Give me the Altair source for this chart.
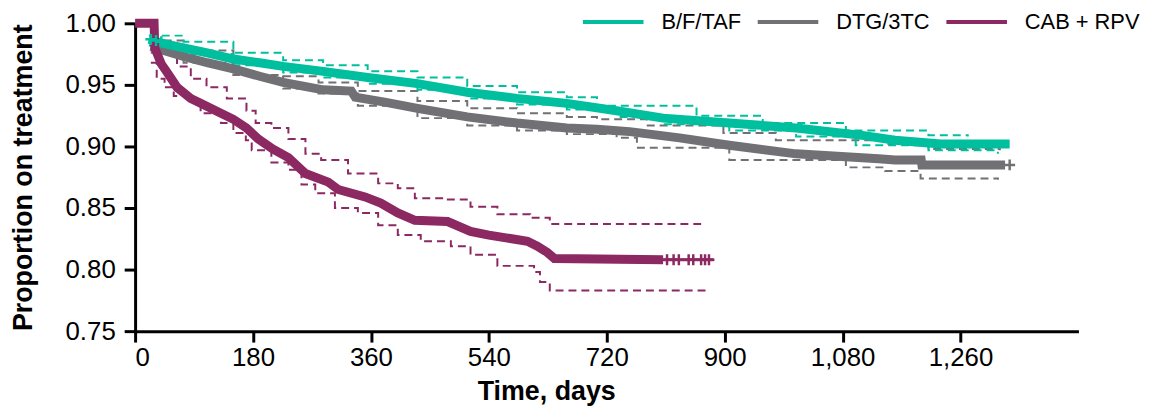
import altair as alt
import pandas as pd

# ---------------- data ----------------
series_names = ["B/F/TAF", "DTG/3TC", "CAB + RPV"]
series_colors = ["#00BF9F", "#717074", "#8C2862"]

x_ticks = [0, 180, 360, 540, 720, 900, 1080, 1260]
y_ticks = [0.75, 0.80, 0.85, 0.90, 0.95, 1.00]

# B/F/TAF
bft_days = [21, 40, 74, 110, 150, 190, 226, 287, 355, 431, 507, 583, 659, 735, 806, 907, 1009, 1110, 1160, 1230, 1335]
bft_vals = [0.987, 0.984, 0.980, 0.976, 0.971, 0.968, 0.965, 0.961, 0.956, 0.951, 0.944, 0.939, 0.935, 0.929, 0.923, 0.919, 0.915, 0.909, 0.905, 0.902, 0.902]
bft_up_days = [21, 74, 150, 226, 287, 355, 431, 507, 583, 659, 705, 857, 958, 1085, 1211, 1271]
bft_up_vals = [0.990, 0.985, 0.976, 0.970, 0.966, 0.961, 0.956, 0.949, 0.944, 0.940, 0.933, 0.925, 0.919, 0.913, 0.909, 0.908]
bft_lo_days = [21, 74, 150, 226, 287, 355, 431, 507, 583, 659, 735, 806, 907, 1009, 1100, 1211, 1317]
bft_lo_vals = [0.982, 0.975, 0.966, 0.960, 0.956, 0.951, 0.946, 0.939, 0.934, 0.930, 0.924, 0.918, 0.913, 0.908, 0.901, 0.897, 0.894]

# DTG/3TC
dtg_days = [24, 50, 74, 110, 150, 190, 226, 287, 330, 336, 381, 431, 507, 583, 659, 705, 755, 831, 907, 1009, 1135, 1160, 1200, 1201, 1328]
dtg_vals = [0.981, 0.977, 0.973, 0.968, 0.963, 0.957, 0.952, 0.946, 0.945, 0.940, 0.936, 0.931, 0.924, 0.919, 0.915, 0.914, 0.912, 0.907, 0.901, 0.894, 0.890, 0.889, 0.889, 0.885, 0.885]
dtg_up_days = [24, 74, 150, 226, 280, 340, 431, 507, 583, 659, 705, 781, 898, 978, 1150, 1211, 1320]
dtg_up_vals = [0.986, 0.978, 0.968, 0.957, 0.952, 0.945, 0.937, 0.931, 0.927, 0.924, 0.922, 0.917, 0.911, 0.905, 0.902, 0.898, 0.897]
dtg_lo_days = [24, 74, 150, 226, 280, 340, 431, 507, 583, 659, 735, 766, 907, 1085, 1145, 1199, 1317]
dtg_lo_vals = [0.976, 0.968, 0.958, 0.947, 0.943, 0.933, 0.923, 0.917, 0.913, 0.910, 0.907, 0.899, 0.889, 0.883, 0.880, 0.874, 0.873]

# CAB + RPV
cab_days = [0, 29, 30, 40, 49, 64, 85, 100, 131, 150, 170, 188, 210, 234, 260, 295, 310, 351, 375, 401, 427, 477, 512, 540, 599, 614, 629, 640, 806]
cab_vals = [1.000, 1.000, 0.980, 0.967, 0.960, 0.948, 0.939, 0.935, 0.927, 0.922, 0.915, 0.906, 0.898, 0.891, 0.878, 0.871, 0.865, 0.859, 0.854, 0.846, 0.840, 0.839, 0.831, 0.828, 0.823, 0.819, 0.814, 0.809, 0.808]
cab_tail_days = [806, 883]
cab_tail_vals = [0.808, 0.808]
cab_up_days = [24, 33, 40, 49, 64, 85, 109, 140, 170, 184, 208, 234, 260, 284, 325, 371, 401, 427, 472, 512, 553, 603, 633, 864]
cab_up_vals = [0.994, 0.985, 0.980, 0.976, 0.965, 0.955, 0.948, 0.939, 0.929, 0.919, 0.915, 0.906, 0.894, 0.889, 0.878, 0.870, 0.866, 0.858, 0.857, 0.851, 0.845, 0.842, 0.837, 0.837]
cab_lo_days = [24, 33, 45, 59, 85, 100, 131, 150, 169, 178, 208, 234, 254, 275, 305, 340, 371, 401, 436, 482, 512, 553, 609, 618, 633, 872]
cab_lo_vals = [0.968, 0.955, 0.948, 0.941, 0.936, 0.927, 0.919, 0.911, 0.905, 0.897, 0.887, 0.881, 0.869, 0.862, 0.850, 0.846, 0.836, 0.828, 0.823, 0.819, 0.812, 0.803, 0.798, 0.790, 0.783, 0.783]

# censoring marks that stand out
bft_cens_days = [24, 32, 40]
bft_cens_vals = [0.987, 0.986, 0.985]
dtg_cens_days = [1335]
dtg_cens_vals = [0.885]
cab_cens_days = [812, 822, 830, 845, 852, 864, 870, 876]
cab_cens_vals = [0.808, 0.808, 0.808, 0.808, 0.808, 0.808, 0.808, 0.808]

# ---------------- tables ----------------
def frame(series, kind, days, vals):
    return pd.DataFrame({"series": series, "kind": kind, "day": days, "value": vals})

main_df = pd.concat([
    frame("DTG/3TC", "main", dtg_days, dtg_vals),
    frame("B/F/TAF", "main", bft_days, bft_vals),
    frame("CAB + RPV", "main", cab_days, cab_vals),
])

per_series = {
    "B/F/TAF": dict(up=(bft_up_days, bft_up_vals), lo=(bft_lo_days, bft_lo_vals),
                    cens=(bft_cens_days, bft_cens_vals), tail=None),
    "DTG/3TC": dict(up=(dtg_up_days, dtg_up_vals), lo=(dtg_lo_days, dtg_lo_vals),
                    cens=(dtg_cens_days, dtg_cens_vals), tail=None),
    "CAB + RPV": dict(up=(cab_up_days, cab_up_vals), lo=(cab_lo_days, cab_lo_vals),
                      cens=(cab_cens_days, cab_cens_vals), tail=(cab_tail_days, cab_tail_vals)),
}

FONT = "Liberation Sans"
color_scale = alt.Scale(domain=series_names, range=series_colors)

x_enc = alt.X("day:Q", scale=alt.Scale(domain=[0, 1440], nice=False),
              axis=alt.Axis(values=x_ticks, format=",d", title="Time, days",
                            titleX=414, titleAlign="center", titlePadding=8, labelPadding=3))
y_enc = alt.Y("value:Q", scale=alt.Scale(domain=[0.75, 1.0], nice=False, zero=False),
              axis=alt.Axis(values=y_ticks, format=".2f", title="Proportion on treatment",
                            labelPadding=9, titlePadding=28))

legend = alt.Legend(orient="none", legendX=449, legendY=-34, direction="horizontal", title=None,
                    symbolType="stroke", symbolSize=3721, symbolStrokeWidth=4,
                    labelFontSize=22, labelFont=FONT, labelColor="black", labelOffset=16,
                    columnPadding=8, padding=0, labelLimit=200)

layers = []
# order of drawing: gray, teal, purple
for name in ["DTG/3TC", "B/F/TAF", "CAB + RPV"]:
    col = series_colors[series_names.index(name)]
    info = per_series[name]
    ci_df = pd.concat([frame(name, "upper", *info["up"]), frame(name, "lower", *info["lo"])])
    layers.append(
        alt.Chart(ci_df).mark_line(interpolate="step-after", strokeWidth=2, strokeDash=[8, 5], color=col)
        .encode(x=x_enc, y=y_enc, detail="kind:N")
    )

main = alt.Chart(main_df).mark_line(strokeWidth=9).encode(
    x=x_enc, y=y_enc,
    color=alt.Color("series:N", scale=color_scale, legend=legend, sort=series_names),
)
layers.append(main)

for name in ["DTG/3TC", "B/F/TAF", "CAB + RPV"]:
    col = series_colors[series_names.index(name)]
    info = per_series[name]
    if info["tail"] is not None:
        layers.append(
            alt.Chart(frame(name, "tail", *info["tail"])).mark_line(strokeWidth=3, color=col)
            .encode(x=x_enc, y=y_enc)
        )
    layers.append(
        alt.Chart(frame(name, "cens", *info["cens"]))
        .mark_point(shape="M-1,0H1M0,-1V1", size=120, strokeWidth=2.5, filled=False, opacity=1, color=col)
        .encode(x=x_enc, y=y_enc)
    )

chart = alt.layer(*layers).properties(
    width=950, height=310,
    autosize=alt.AutoSizeParams(type="none"),
    padding={"left": 128, "top": 14, "right": 65, "bottom": 78},
).configure_view(stroke=None).configure_axis(
    domainColor="black", domainWidth=3, tickColor="black", tickWidth=3, tickSize=11,
    labelFont=FONT, labelFontSize=26, labelColor="black",
    titleFont=FONT, titleFontSize=27, titleFontWeight="bold", titleColor="black",
    grid=False,
)

chart.save("out.html", embed_options={"renderer": "svg", "actions": False})
